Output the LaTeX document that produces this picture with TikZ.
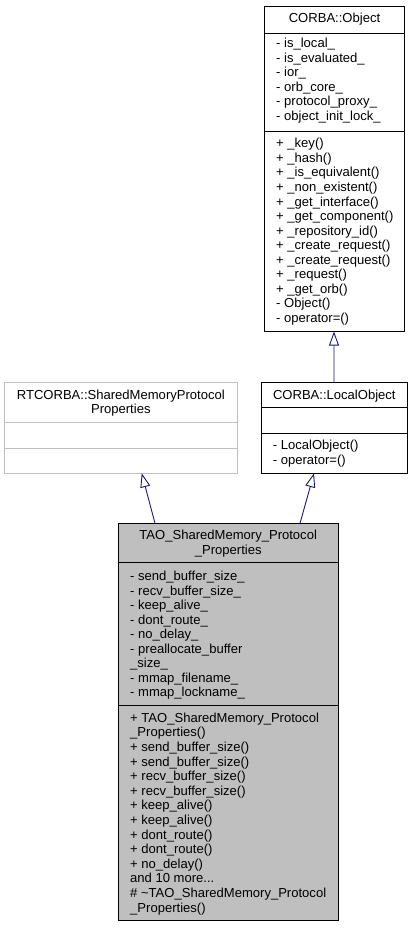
\documentclass[tikz,border=0pt]{standalone}
\usepackage{fontspec}
\setmainfont{Liberation Sans}
\usetikzlibrary{arrows.meta}
\definecolor{edgeblue}{HTML}{191970}
\definecolor{boxgray}{HTML}{BFBFBF}
\begin{document}
\begin{tikzpicture}[x=1bp,y=-1bp,
  every node/.style={font=\fontsize{13.1}{14.5}\selectfont},
  box/.style={draw=black, line width=0.9bp, inner sep=0, outer sep=0, anchor=north west},
  sepline/.style={line width=0.9bp},
  txt/.style={anchor=base west, inner sep=0},
  ttl/.style={anchor=base, inner sep=0},
  inh/.style={draw=edgeblue, line width=0.9bp, -{Triangle[open, length=14bp, width=10bp]}}
]
\useasboundingbox[fill=white] (0,0) rectangle (413,928);

% CORBA::Object
\node[box, minimum width=140bp, minimum height=325bp] (obj) at (264.5,6.5) {};
\draw[sepline] (264.5,33.3) -- (404.5,33.3);
\draw[sepline] (264.5,131.7) -- (404.5,131.7);
\node[ttl] (objt) at (334.5,22.8) {CORBA::Object};
\foreach \s [count=\i from 0] in {- is\_local\_, - is\_evaluated\_, - ior\_, - orb\_core\_, - protocol\_proxy\_, - object\_init\_lock\_}
  \node[txt] (oa\i) at (276,{47.8+\i*14.5}) {\s};
\foreach \s [count=\i from 0] in {+ \_key(), + \_hash(), + \_is\_equivalent(), + \_non\_existent(), + \_get\_interface(), + \_get\_component(), + \_repository\_id(), + \_create\_request(), + \_create\_request(), + \_request(), + \_get\_orb(), - Object(), - operator=()}
  \node[txt] (om\i) at (276,{147.8+\i*14.55}) {\s};

% CORBA::LocalObject
\node[box, minimum width=146.7bp, minimum height=90.6bp] (lo) at (261,382.7) {};
\draw[sepline] (261,407.7) -- (407.7,407.7);
\draw[sepline] (261,433.3) -- (407.7,433.3);
\node[ttl] (lot) at (334.3,399.5) {CORBA::LocalObject};
\node[txt] (lom0) at (272.7,449.5) {- LocalObject()};
\node[txt] (lom1) at (272.7,464) {- operator=()};

% RTCORBA::SharedMemoryProtocolProperties
\node[box, draw=boxgray, minimum width=232.5bp, minimum height=90.6bp] (rt) at (4.5,382.7) {};
\draw[sepline, boxgray] (4.5,422) -- (237,422);
\draw[sepline, boxgray] (4.5,448) -- (237,448);
\node[ttl] (rtt0) at (120.8,399) {RTCORBA::SharedMemoryProtocol};
\node[ttl] (rtt1) at (120.8,413.3) {Properties};

% TAO_SharedMemory_Protocol_Properties
\node[box, fill=boxgray, minimum width=219.7bp, minimum height=396.7bp] (tao) at (118.3,523.3) {};
\draw[sepline] (118.3,562) -- (338,562);
\draw[sepline] (118.3,705.7) -- (338,705.7);
\node[ttl] (taot0) at (228.2,539.5) {TAO\_SharedMemory\_Protocol};
\node[ttl] (taot1) at (228.2,554) {\_Properties};
\foreach \s [count=\i from 0] in {- send\_buffer\_size\_, - recv\_buffer\_size\_, - keep\_alive\_, - dont\_route\_, - no\_delay\_, - preallocate\_buffer, \_size\_, - mmap\_filename\_, - mmap\_lockname\_}
  \node[txt] (ta\i) at (130,{580.5+\i*14.5}) {\s};
\foreach \s [count=\i from 0] in {+ TAO\_SharedMemory\_Protocol, \_Properties(), + send\_buffer\_size(), + send\_buffer\_size(), + recv\_buffer\_size(), + recv\_buffer\_size(), + keep\_alive(), + keep\_alive(), + dont\_route(), + dont\_route(), + no\_delay()}
  \node[txt] (tm\i) at (130,{722.2+\i*14.6}) {\s};
\node[txt] (tm11) at (130,{722.2+11*14.6}) {and 10 more...};
\node[txt] (tm12) at (130,{722.2+12*14.6}) {\# \textasciitilde TAO\_SharedMemory\_Protocol};
\node[txt] (tm13) at (130,{722.2+13*14.6}) {\_Properties()};

% inheritance arrows
\draw[inh] ([xshift=36.7bp]tao.north west) -- ([xshift=137.2bp]rt.south west);
\draw[inh] ([xshift=181.7bp]tao.north west) -- ([xshift=53bp]lo.south west);
\draw[inh] ([xshift=73bp]lo.north west) -- ([xshift=69.5bp]obj.south west);
\end{tikzpicture}
\end{document}
